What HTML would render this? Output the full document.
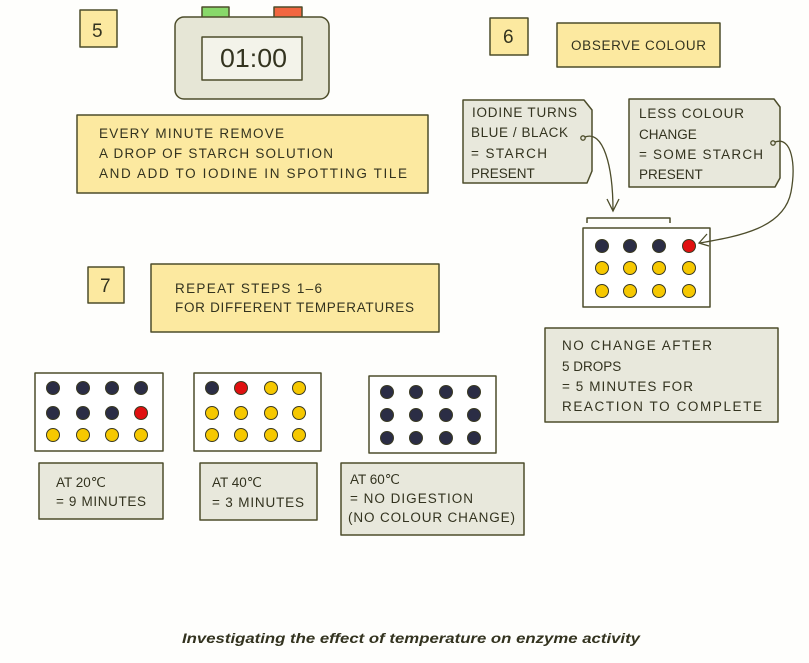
<!DOCTYPE html>
<html><head><meta charset="utf-8"><style>
html,body{margin:0;padding:0;background:#fff;}
svg{display:block;}
text{font-family:"Liberation Sans",sans-serif;fill:#33331f;}
.t{font-size:13.5px;}
</style></head><body>
<svg width="809" height="663" viewBox="0 0 809 663" xmlns="http://www.w3.org/2000/svg">
<rect x="0" y="0" width="809" height="663" fill="#fefefc"/>
<g stroke="#4d4d2b" stroke-width="1.5" stroke-linejoin="round">
<!-- step 5 -->
<rect x="80" y="10" width="37" height="37" fill="#fce9a0"/>
<rect x="202" y="7" width="27" height="11" fill="#88d86a"/>
<rect x="274" y="7" width="28" height="11" fill="#f26640"/>
<rect x="175" y="17" width="154" height="82" rx="9" fill="#e6e6d6"/>
<rect x="202" y="37" width="100" height="43" fill="#f3f3ea"/>
<rect x="77" y="115" width="351" height="78" fill="#fce9a0"/>
<!-- step 6 -->
<rect x="490" y="18" width="38" height="37" fill="#fce9a0"/>
<rect x="557" y="23" width="163" height="44" fill="#fce9a0"/>
<polygon points="463,100 584,100 592,110 592,171 587,183 463,183" fill="#e8e8dc"/>
<polygon points="629,99 774,99 780,107 780,178 775,187 629,187" fill="#e8e8dc"/>
<rect x="583" y="228" width="127" height="79" fill="#fff"/>
<polyline points="587,223 587,218 670,218 670,223" fill="none"/>
<rect x="545" y="328" width="233" height="94" fill="#e8e8dc"/>
<!-- step 7 -->
<rect x="88" y="267" width="36" height="36" fill="#fce9a0"/>
<rect x="151" y="264" width="288" height="68" fill="#fce9a0"/>
<rect x="35" y="373" width="128" height="78" fill="#fff"/>
<rect x="194" y="373" width="127" height="78" fill="#fff"/>
<rect x="369" y="376" width="127" height="77" fill="#fff"/>
<rect x="39" y="463" width="124" height="56" fill="#e8e8dc"/>
<rect x="200" y="463" width="117" height="57" fill="#e8e8dc"/>
<rect x="341" y="463" width="183" height="72" fill="#e8e8dc"/>
</g>
<!-- arrows -->
<g fill="none" stroke="#4d4d2b" stroke-width="1.3">
<circle cx="583" cy="138" r="2.2" fill="#e8e8dc"/>
<path d="M585,137 C603,130 613,165 613,211"/>
<polyline points="607,199 613,211 619,199"/>
<circle cx="773" cy="143" r="2.2" fill="#e8e8dc"/>
<path d="M775,142 C792,136 796,165 791,192 C784,228 740,236 700,243"/>
<polyline points="707,234 699,243 709,246"/>
</g>
<!-- dots -->
<g stroke="#3a3a22" stroke-width="1">
<circle cx="602" cy="246" r="6.5" fill="#2b2d45"/><circle cx="630" cy="246" r="6.5" fill="#2b2d45"/><circle cx="659" cy="246" r="6.5" fill="#2b2d45"/><circle cx="689" cy="246" r="6.5" fill="#e01010"/>
<circle cx="602" cy="268" r="6.5" fill="#f6c800"/><circle cx="630" cy="268" r="6.5" fill="#f6c800"/><circle cx="659" cy="268" r="6.5" fill="#f6c800"/><circle cx="689" cy="268" r="6.5" fill="#f6c800"/>
<circle cx="602" cy="291" r="6.5" fill="#f6c800"/><circle cx="630" cy="291" r="6.5" fill="#f6c800"/><circle cx="659" cy="291" r="6.5" fill="#f6c800"/><circle cx="689" cy="291" r="6.5" fill="#f6c800"/>
<circle cx="53" cy="388" r="6.5" fill="#2b2d45"/><circle cx="83" cy="388" r="6.5" fill="#2b2d45"/><circle cx="112" cy="388" r="6.5" fill="#2b2d45"/><circle cx="141" cy="388" r="6.5" fill="#2b2d45"/>
<circle cx="53" cy="413" r="6.5" fill="#2b2d45"/><circle cx="83" cy="413" r="6.5" fill="#2b2d45"/><circle cx="112" cy="413" r="6.5" fill="#2b2d45"/><circle cx="141" cy="413" r="6.5" fill="#e01010"/>
<circle cx="53" cy="435" r="6.5" fill="#f6c800"/><circle cx="83" cy="435" r="6.5" fill="#f6c800"/><circle cx="112" cy="435" r="6.5" fill="#f6c800"/><circle cx="141" cy="435" r="6.5" fill="#f6c800"/>
<circle cx="212" cy="388" r="6.5" fill="#2b2d45"/><circle cx="241" cy="388" r="6.5" fill="#e01010"/><circle cx="271" cy="388" r="6.5" fill="#f6c800"/><circle cx="299" cy="388" r="6.5" fill="#f6c800"/>
<circle cx="212" cy="413" r="6.5" fill="#f6c800"/><circle cx="241" cy="413" r="6.5" fill="#f6c800"/><circle cx="271" cy="413" r="6.5" fill="#f6c800"/><circle cx="299" cy="413" r="6.5" fill="#f6c800"/>
<circle cx="212" cy="435" r="6.5" fill="#f6c800"/><circle cx="241" cy="435" r="6.5" fill="#f6c800"/><circle cx="271" cy="435" r="6.5" fill="#f6c800"/><circle cx="299" cy="435" r="6.5" fill="#f6c800"/>
<circle cx="387" cy="392" r="6.5" fill="#2b2d45"/><circle cx="416" cy="392" r="6.5" fill="#2b2d45"/><circle cx="446" cy="392" r="6.5" fill="#2b2d45"/><circle cx="474" cy="392" r="6.5" fill="#2b2d45"/>
<circle cx="387" cy="415" r="6.5" fill="#2b2d45"/><circle cx="416" cy="415" r="6.5" fill="#2b2d45"/><circle cx="446" cy="415" r="6.5" fill="#2b2d45"/><circle cx="474" cy="415" r="6.5" fill="#2b2d45"/>
<circle cx="387" cy="438" r="6.5" fill="#2b2d45"/><circle cx="416" cy="438" r="6.5" fill="#2b2d45"/><circle cx="446" cy="438" r="6.5" fill="#2b2d45"/><circle cx="474" cy="438" r="6.5" fill="#2b2d45"/>
</g>
<!-- text -->
<text x="92" y="37" font-size="19">5</text>
<text x="220" y="67" font-size="26" textLength="67" lengthAdjust="spacingAndGlyphs">01:00</text>
<text class="t" x="99" y="138" textLength="185" lengthAdjust="spacing">EVERY  MINUTE  REMOVE</text>
<text class="t" x="99" y="158" textLength="234" lengthAdjust="spacing">A  DROP  OF  STARCH  SOLUTION</text>
<text class="t" x="99" y="178" textLength="308" lengthAdjust="spacing">AND  ADD  TO  IODINE  IN  SPOTTING  TILE</text>

<text x="503" y="43" font-size="19">6</text>
<text class="t" x="571" y="50" textLength="135" lengthAdjust="spacing">OBSERVE  COLOUR</text>
<text class="t" x="472" y="117" textLength="105" lengthAdjust="spacing">IODINE  TURNS</text>
<text class="t" x="471" y="137" textLength="97" lengthAdjust="spacing">BLUE / BLACK</text>
<text class="t" x="471" y="158" textLength="76" lengthAdjust="spacing">= STARCH</text>
<text class="t" x="471" y="178">PRESENT</text>
<text class="t" x="639" y="118" textLength="105" lengthAdjust="spacing">LESS  COLOUR</text>
<text class="t" x="639" y="139">CHANGE</text>
<text class="t" x="639" y="159" textLength="124" lengthAdjust="spacing">= SOME  STARCH</text>
<text class="t" x="639" y="179">PRESENT</text>
<text class="t" x="562" y="350" textLength="150" lengthAdjust="spacing">NO  CHANGE  AFTER</text>
<text class="t" x="562" y="371">5 DROPS</text>
<text class="t" x="562" y="391" textLength="131" lengthAdjust="spacing">= 5 MINUTES  FOR</text>
<text class="t" x="562" y="411" textLength="200" lengthAdjust="spacing">REACTION  TO  COMPLETE</text>

<text x="100" y="292" font-size="19">7</text>
<text class="t" x="175" y="293" textLength="147" lengthAdjust="spacing">REPEAT  STEPS  1–6</text>
<text class="t" x="175" y="312" textLength="239" lengthAdjust="spacing">FOR  DIFFERENT  TEMPERATURES</text>

<text class="t" x="56" y="487">AT  20℃</text>
<text class="t" x="56" y="506" textLength="90" lengthAdjust="spacing">= 9 MINUTES</text>
<text class="t" x="212" y="487">AT  40℃</text>
<text class="t" x="212" y="507" textLength="92" lengthAdjust="spacing">= 3 MINUTES</text>
<text class="t" x="350" y="484">AT  60℃</text>
<text class="t" x="350" y="503" textLength="123" lengthAdjust="spacing">= NO  DIGESTION</text>
<text class="t" x="348" y="522" textLength="167" lengthAdjust="spacing">(NO  COLOUR  CHANGE)</text>

<text x="182" y="643" font-size="14" font-weight="bold" font-style="italic" fill="#2f3318" textLength="458" lengthAdjust="spacingAndGlyphs">Investigating the effect of temperature on enzyme activity</text>
</svg>
</body></html>
